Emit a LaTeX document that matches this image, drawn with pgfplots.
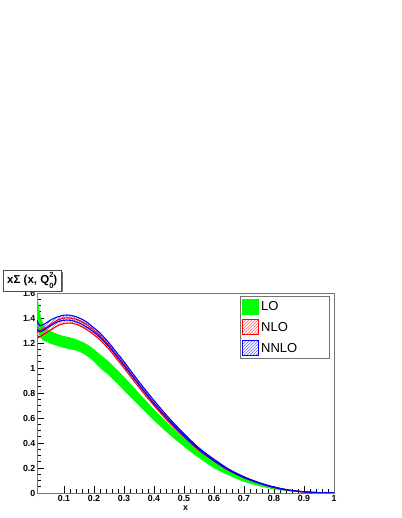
\documentclass[border=0pt]{standalone}
\usepackage{fontspec}
\setmainfont{Liberation Sans}
\usepackage{pgfplots}
\pgfplotsset{compat=1.18}
\usepackage{pgfplotstable}
\usepgfplotslibrary{fillbetween}
\usetikzlibrary{patterns,shadows}

\pgfplotstableread{
x lo hi
0.010 1.33 1.60
0.015 1.28 1.52
0.020 1.25 1.44
0.030 1.22 1.36
0.040 1.21 1.32
0.060 1.19 1.29
0.080 1.175 1.27
0.100 1.16 1.255
0.120 1.15 1.245
0.140 1.14 1.23
0.160 1.12 1.21
0.180 1.09 1.185
0.200 1.05 1.15
0.220 1.00 1.11
0.250 0.94 1.05
0.280 0.87 0.98
0.300 0.82 0.93
0.350 0.70 0.80
0.400 0.58 0.67
0.450 0.47 0.55
0.500 0.37 0.44
0.550 0.28 0.34
0.600 0.20 0.25
0.650 0.14 0.18
0.700 0.09 0.12
0.750 0.055 0.075
0.800 0.03 0.042
0.850 0.014 0.02
0.900 0.005 0.008
0.950 0.001 0.002
1.000 0 0
}\LOtab

\pgfplotstableread{
x lo hi
0.010 1.24 1.31
0.015 1.245 1.30
0.020 1.25 1.30
0.030 1.265 1.31
0.040 1.28 1.325
0.060 1.31 1.355
0.080 1.34 1.385
0.100 1.355 1.40
0.120 1.36 1.40
0.140 1.35 1.39
0.160 1.33 1.37
0.180 1.30 1.34
0.200 1.265 1.30
0.220 1.225 1.26
0.250 1.15 1.18
0.280 1.06 1.09
0.300 1.00 1.03
0.350 0.845 0.87
0.400 0.70 0.72
0.450 0.565 0.585
0.500 0.448 0.465
0.550 0.342 0.355
0.600 0.255 0.265
0.650 0.18 0.187
0.700 0.122 0.128
0.750 0.078 0.082
0.800 0.044 0.047
0.850 0.021 0.023
0.900 0.0085 0.0095
0.950 0.0025 0.003
1.000 0 0
}\NLOtab

\pgfplotstableread{
x lo hi
0.010 1.31 1.38
0.015 1.295 1.35
0.020 1.29 1.34
0.030 1.30 1.345
0.040 1.315 1.36
0.060 1.345 1.39
0.080 1.37 1.41
0.100 1.382 1.423
0.120 1.382 1.422
0.140 1.37 1.41
0.160 1.35 1.39
0.180 1.32 1.36
0.200 1.285 1.32
0.220 1.245 1.28
0.250 1.17 1.20
0.280 1.08 1.11
0.300 1.02 1.05
0.350 0.865 0.89
0.400 0.715 0.74
0.450 0.58 0.60
0.500 0.458 0.475
0.550 0.347 0.36
0.600 0.258 0.27
0.650 0.182 0.19
0.700 0.124 0.13
0.750 0.079 0.083
0.800 0.045 0.048
0.850 0.022 0.024
0.900 0.009 0.010
0.950 0.0025 0.003
1.000 0 0
}\NNLOtab

\begin{document}
\begin{tikzpicture}[x=1pt,y=1pt]
\begin{axis}[
  at={(37pt,25pt)}, anchor=south west,
  scale only axis, width=297pt, height=200pt,
  xmin=0.01, xmax=1, ymin=0, ymax=1.6,
  xtick={0.1,0.2,0.3,0.4,0.5,0.6,0.7,0.8,0.9,1},
  ytick={0,0.2,0.4,0.6,0.8,1,1.2,1.4,1.6},
  minor x tick num=4, minor y tick num=3,
  tick align=inside, xtick pos=left, ytick pos=left,
  major tick length=6.5pt, minor tick length=3.5pt,
  axis line style={black!55},
  tick style={black, line width=0.6pt},
  /pgf/number format/assume math mode=true,
  ticklabel style={font=\bfseries\fontsize{8.8}{10}\selectfont},
  yticklabel style={xshift=1.8pt},
  xticklabel style={yshift=1.5pt},
  xlabel={x},
  xlabel style={font=\bfseries\fontsize{8.8}{10}\selectfont, yshift=2pt},
  legend style={at={(rel axis cs:0.9865,0.985)}, anchor=north east,
    draw=black!55, line width=0.6pt, font=\fontsize{13}{15}\selectfont,
    row sep=5pt, inner sep=2.5pt},
  legend cell align=left,
  legend image code/.code={\draw[#1] (0pt,-7pt) rectangle (16pt,8pt);},
]
\addlegendimage{fill=green, draw=green}
\addlegendentry{\makebox[64pt][l]{LO}}
\addlegendimage{draw=red, line width=0.8pt, pattern=north east lines, pattern color=red!60}
\addlegendentry{\makebox[64pt][l]{NLO}}
\addlegendimage{draw=blue, line width=0.8pt, pattern=north east lines, pattern color=blue!60}
\addlegendentry{\makebox[64pt][l]{NNLO}}

\addplot[name path=loU, draw=none, smooth, forget plot] table[x=x,y=hi]{\LOtab};
\addplot[name path=loL, draw=none, smooth, forget plot] table[x=x,y=lo]{\LOtab};
\addplot[fill=green, draw=none, forget plot] fill between[of=loU and loL];

\addplot[name path=nloU, draw=none, smooth, forget plot] table[x=x,y=hi]{\NLOtab};
\addplot[name path=nloL, draw=none, smooth, forget plot] table[x=x,y=lo]{\NLOtab};
\addplot[pattern=north east lines, pattern color=red!60, draw=none, forget plot] fill between[of=nloU and nloL];
\addplot[red, line width=1.1pt, smooth, forget plot] table[x=x,y=hi]{\NLOtab};
\addplot[red, line width=1.1pt, smooth, forget plot] table[x=x,y=lo]{\NLOtab};

\addplot[name path=nnloU, draw=none, smooth, forget plot] table[x=x,y=hi]{\NNLOtab};
\addplot[name path=nnloL, draw=none, smooth, forget plot] table[x=x,y=lo]{\NNLOtab};
\addplot[pattern=north east lines, pattern color=blue!60, draw=none, forget plot] fill between[of=nnloU and nnloL];
\addplot[blue, line width=1.1pt, smooth, forget plot] table[x=x,y=hi]{\NNLOtab};
\addplot[blue, line width=1.1pt, smooth, forget plot] table[x=x,y=lo]{\NNLOtab};
\end{axis}
\node[draw=black!70, fill=white, anchor=south west, inner xsep=4pt, inner ysep=2.5pt,
  drop shadow={shadow xshift=1.5pt, shadow yshift=-1.5pt, fill=black!55, opacity=1},
  font=\bfseries\fontsize{11.5}{13}\selectfont] at (3,227)
  {xΣ (x, Q\makebox[0pt][l]{\raisebox{0.95ex}{\fontsize{7.5}{8}\selectfont 2}}\raisebox{-0.75ex}{\fontsize{7.5}{8}\selectfont 0})};
\path (0,0) rectangle (401,518);
\end{tikzpicture}
\end{document}
